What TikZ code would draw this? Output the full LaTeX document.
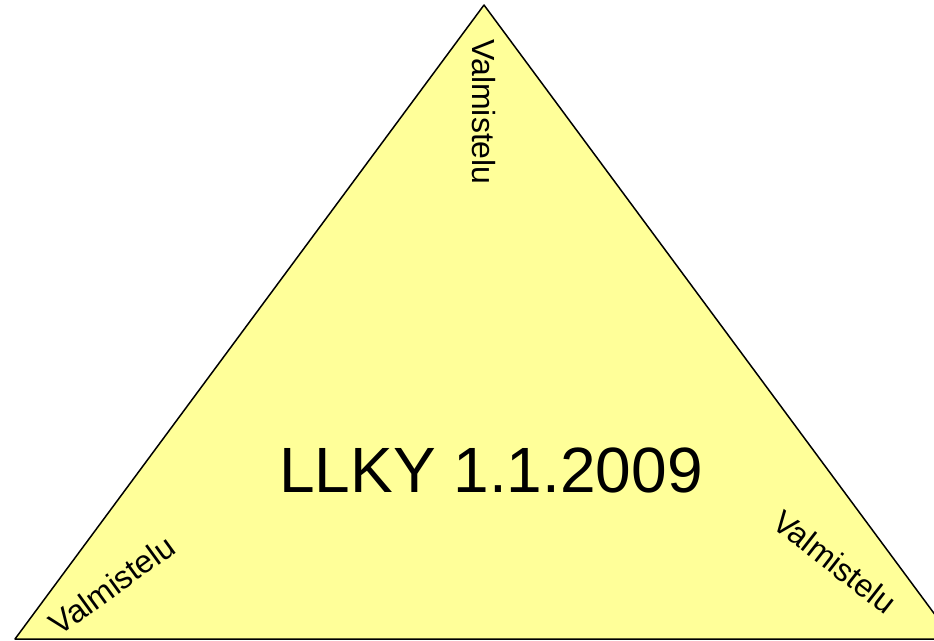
\documentclass[tikz,border=0pt]{standalone}
\usepackage{fontspec}
\setmainfont{Liberation Sans}
\definecolor{paleyellow}{RGB}{255,255,153}
\begin{document}
\begin{tikzpicture}[x=1pt,y=-1pt,
  side/.style={font=\fontsize{32}{32}\selectfont,inner sep=0pt},
  title/.style={font=\fontsize{64}{64}\selectfont,inner sep=0pt}]
\useasboundingbox (0,0) rectangle (934,640);
\coordinate (apex) at (484,5);
\coordinate (bl) at (15,639);
\coordinate (br) at (953,639);
\draw[line width=1.5pt,line join=round,fill=paleyellow](apex)--(bl)--(br)--cycle;
\node[title] (main) at (491,470) {LLKY 1.1.2009};
\node[side,rotate=-90] (vtop) at (484,112) {Valmistelu};
\node[side,rotate=36] (vleft) at (112,585) {Valmistelu};
\node[side,rotate=-38] (vright) at (835,562) {Valmistelu};
\end{tikzpicture}
\end{document}
